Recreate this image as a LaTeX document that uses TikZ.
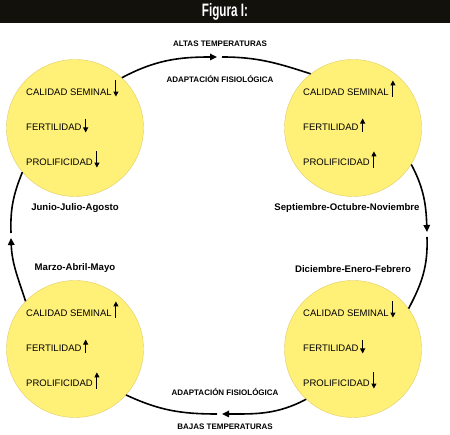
\documentclass[tikz,border=0pt]{standalone}
\usepackage{fontspec}
\setmainfont{Liberation Sans}
\newfontfamily\titlefont[FakeStretch=0.65]{Liberation Sans}
\usetikzlibrary{positioning,arrows.meta}
\definecolor{barblack}{RGB}{18,17,12}
\definecolor{seasonfill}{RGB}{255,240,120}
\definecolor{seasonedge}{RGB}{225,205,100}
\begin{document}
\begin{tikzpicture}[x=1pt, y=1pt,
    mybar/.style={fill=barblack, text=white, minimum width=450pt, minimum height=23pt, inner sep=0pt, font=\titlefont\bfseries\fontsize{18}{20}\selectfont},
    myseason/.style={circle, draw=seasonedge, fill=seasonfill, minimum size=137pt, inner sep=0pt},
    mytrait/.style={anchor=west, inner sep=0pt, font=\fontsize{9.5}{11}\selectfont},
    mymonth/.style={font=\bfseries\fontsize{9.6}{11}\selectfont},
    mytemp/.style={font=\bfseries\fontsize{8}{9}\selectfont},
    mycycle/.style={line width=1.6pt, black},
    mycyclearrow/.style={mycycle, -{Triangle[length=7pt,width=6.5pt]}},
    mydown/.style={line width=0.9pt, -{Triangle[length=5pt,width=5pt]}},
    myup/.style={line width=0.9pt, {Triangle[length=5pt,width=5pt]}-}
]
    \useasboundingbox (0,0) rectangle (450,435);

    % Title bar
    \node[mybar] (bar) at (225,423.5) {Figura I:};

    % Seasons
    \node[myseason] (jja) at (75,307) {};
    \node[myseason] (son) at (353,307) {};
    \node[myseason] (mam) at (75,86) {};
    \node[myseason] (def) at (353,86) {};

    % Junio-Julio-Agosto
    \node[mytrait] (jja1) at ([shift={(-49,36)}]jja.center) {CALIDAD SEMINAL};
    \node[mytrait] (jja2) at ([shift={(-49,1)}]jja.center) {FERTILIDAD};
    \node[mytrait] (jja3) at ([shift={(-49,-34)}]jja.center) {PROLIFICIDAD};
    \draw[mydown] ([xshift=4pt,yshift=8pt]jja1.north east) -- ([xshift=4pt,yshift=-1pt]jja1.south east);
    \draw[mydown] ([xshift=4pt,yshift=5pt]jja2.north east) -- ([xshift=4pt,yshift=-2pt]jja2.south east);
    \draw[mydown] ([xshift=4pt,yshift=7pt]jja3.north east) -- ([xshift=4pt,yshift=-2pt]jja3.south east);
    \node[mymonth, below=3pt of jja] (jjalabel) {Junio-Julio-Agosto};

    % Septiembre-Octubre-Noviembre
    \node[mytrait] (son1) at ([shift={(-50,36)}]son.center) {CALIDAD SEMINAL};
    \node[mytrait] (son2) at ([shift={(-50,1)}]son.center) {FERTILIDAD};
    \node[mytrait] (son3) at ([shift={(-50,-34)}]son.center) {PROLIFICIDAD};
    \draw[myup] ([xshift=4pt,yshift=8pt]son1.north east) -- ([xshift=4pt,yshift=-1pt]son1.south east);
    \draw[myup] ([xshift=4pt,yshift=5pt]son2.north east) -- ([xshift=4pt,yshift=-2pt]son2.south east);
    \draw[myup] ([xshift=4pt,yshift=7pt]son3.north east) -- ([xshift=4pt,yshift=-2pt]son3.south east);
    \node[mymonth, below=3pt of son, xshift=-6pt] (sonlabel) {Septiembre-Octubre-Noviembre};

    % Marzo-Abril-Mayo
    \node[mytrait] (mam1) at ([shift={(-49,36)}]mam.center) {CALIDAD SEMINAL};
    \node[mytrait] (mam2) at ([shift={(-49,1)}]mam.center) {FERTILIDAD};
    \node[mytrait] (mam3) at ([shift={(-49,-34)}]mam.center) {PROLIFICIDAD};
    \draw[myup] ([xshift=4pt,yshift=8pt]mam1.north east) -- ([xshift=4pt,yshift=-1pt]mam1.south east);
    \draw[myup] ([xshift=4pt,yshift=5pt]mam2.north east) -- ([xshift=4pt,yshift=-2pt]mam2.south east);
    \draw[myup] ([xshift=4pt,yshift=7pt]mam3.north east) -- ([xshift=4pt,yshift=-2pt]mam3.south east);
    \node[mymonth, above=4pt of mam] (mamlabel) {Marzo-Abril-Mayo};

    % Diciembre-Enero-Febrero
    \node[mytrait] (def1) at ([shift={(-50,36)}]def.center) {CALIDAD SEMINAL};
    \node[mytrait] (def2) at ([shift={(-50,1)}]def.center) {FERTILIDAD};
    \node[mytrait] (def3) at ([shift={(-50,-34)}]def.center) {PROLIFICIDAD};
    \draw[mydown] ([xshift=4pt,yshift=8pt]def1.north east) -- ([xshift=4pt,yshift=-1pt]def1.south east);
    \draw[mydown] ([xshift=4pt,yshift=5pt]def2.north east) -- ([xshift=4pt,yshift=-2pt]def2.south east);
    \draw[mydown] ([xshift=4pt,yshift=7pt]def3.north east) -- ([xshift=4pt,yshift=-2pt]def3.south east);
    \node[mymonth, above=4pt of def] (deflabel) {Diciembre-Enero-Febrero};

    % Temperatures
    \node[mytemp] (altas) at (220,391) {ALTAS TEMPERATURAS};
    \node[mytemp] (adapttop) at (220,356) {ADAPTACIÓN FISIOLÓGICA};
    \node[mytemp] (adaptbot) at (225,43) {ADAPTACIÓN FISIOLÓGICA};
    \node[mytemp] (bajas) at (225,8) {BAJAS TEMPERATURAS};

    % Cycle
    \coordinate (toptip) at (217,378);
    \coordinate (topgap) at (222,378);
    \coordinate (righttip) at (427,203);
    \coordinate (rightgap) at (427,198);
    \coordinate (bottip) at (222,21);
    \coordinate (botgap) at (217,21);
    \coordinate (lefttip) at (11,197);
    \coordinate (leftgap) at (11,202);

    \draw[mycyclearrow] (jja.47) to[out=28, in=180] (toptip);
    \draw[mycycle] (topgap) to[out=0, in=162] (son.128);
    \draw[mycyclearrow] (son.-32) to[out=-62, in=92] (righttip);
    \draw[mycycle] (rightgap) to[out=-88, in=62] (def.36);
    \draw[mycyclearrow] (def.-133) to[out=-152, in=0] (bottip);
    \draw[mycycle] (botgap) to[out=180, in=-25] (mam.-42);
    \draw[mycyclearrow] (mam.136) to[out=108, in=-88] (lefttip);
    \draw[mycycle] (leftgap) to[out=92, in=-112] (jja.-140);
\end{tikzpicture}
\end{document}
